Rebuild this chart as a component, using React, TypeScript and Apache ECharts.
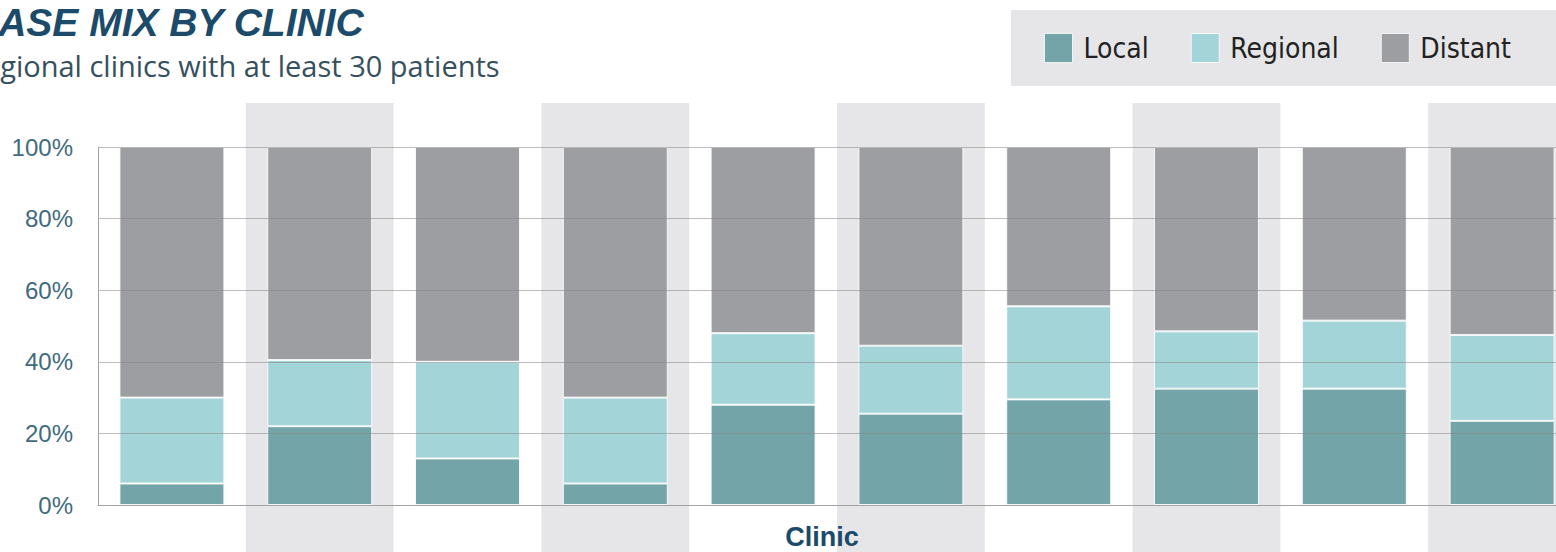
import React, { useEffect, useRef } from "react";
import * as echarts from "echarts";

const categories = ["Clinic 1", "Clinic 2", "Clinic 3", "Clinic 4", "Clinic 5", "Clinic 6", "Clinic 7", "Clinic 8", "Clinic 9", "Clinic 10"];
const localPct = [6, 22, 13, 6, 28, 25.5, 29.5, 32.5, 32.5, 23.5];
const regionalPct = [24, 18.5, 27, 24, 20, 19, 26, 16, 19, 24];
const distantPct = [70, 59.5, 60, 70, 52, 55.5, 44.5, 51.5, 48.5, 52.5];
const gridLevels = [20, 40, 60, 80, 100];

const titleText = "CASE MIX BY CLINIC";
const subtitleText = "Regional clinics with at least 30 patients";

const OFFSET = 40;
const RIGHT_EXTRA = 240;
const CHART_W = 1556 + OFFSET + RIGHT_EXTRA;
const CHART_H = 552;

const COLORS = { local: "#72a4a8", regional: "#a3d5d8", distant: "#9d9ea2", band: "#e6e6e8" };

export default function App() {
  const ref = useRef<HTMLDivElement>(null);
  useEffect(() => {
    if (!ref.current) return;
    const chart = echarts.init(ref.current, null, { renderer: "svg" });
    const barStyle = (color: string) => ({ color, borderColor: "rgba(255,255,255,0.85)", borderWidth: 1 });
    chart.setOption({
      animation: false,
      backgroundColor: "#ffffff",
      title: [
        {
          text: titleText,
          left: OFFSET - 30,
          top: 3,
          padding: 0,
          textStyle: { fontFamily: "Liberation Sans", fontWeight: "bold", fontStyle: "italic", fontSize: 39, color: "#1b4a6a" },
        },
        {
          text: subtitleText,
          left: OFFSET - 34,
          top: 51,
          padding: 0,
          textStyle: { fontFamily: "Open Sans", fontWeight: "normal", fontSize: 29, color: "#36505e" },
        },
      ],
      legend: {
        left: OFFSET + 1011,
        top: 10,
        width: 900,
        backgroundColor: "#e6e6e8",
        padding: [23, 80, 23, 33],
        itemWidth: 28,
        itemHeight: 29,
        itemGap: 42,
        icon: "rect",
        data: ["Local", "Regional", "Distant"],
        itemStyle: { borderColor: "rgba(255,255,255,0.8)", borderWidth: 1 },
        textStyle: { fontFamily: "DejaVu Sans Condensed, Roboto", fontSize: 28, color: "#222222", lineHeight: 29, padding: [0, 0, 0, 6] },
      },
      grid: [
        { left: OFFSET + 98, right: RIGHT_EXTRA - 20, top: 147, bottom: CHART_H - 505, outerBoundsMode: "none" },
        { left: OFFSET + 98, right: RIGHT_EXTRA - 20, top: 103, bottom: 0, outerBoundsMode: "none" },
      ],
      xAxis: [
        {
          type: "category",
          gridIndex: 0,
          data: categories,
          z: 5,
          axisLine: { show: true, lineStyle: { color: "#a3a3a3", width: 1 } },
          axisTick: { show: false },
          axisLabel: { show: false },
          splitLine: { show: false },
          name: "Clinic",
          nameLocation: "middle",
          nameGap: 18,
          nameTextStyle: { fontFamily: "Liberation Sans", fontWeight: "bold", fontSize: 27, color: "#1b4a6a", padding: [0, 30, 0, 0] },
        },
        {
          type: "category",
          gridIndex: 1,
          data: categories,
          z: -1,
          axisLine: { show: false },
          axisTick: { show: false },
          axisLabel: { show: false },
          splitLine: { show: false },
          splitArea: { show: true, areaStyle: { color: ["rgba(255,255,255,0)", COLORS.band] } },
        },
      ],
      yAxis: [
        {
          type: "value",
          gridIndex: 0,
          min: 0,
          max: 100,
          interval: 20,
          z: 5,
          axisLine: { show: true, lineStyle: { color: "#a3a3a3", width: 1 } },
          axisTick: { show: false },
          splitLine: { show: false },
          axisLabel: { formatter: "{value}%", fontFamily: "Liberation Sans", fontSize: 24, color: "#3f6b7d", margin: 25 },
        },
        { type: "value", gridIndex: 1, min: 0, max: 1, show: false },
      ],
      series: [
        { name: "Local", type: "bar", stack: "total", barWidth: "71%", data: localPct, itemStyle: barStyle(COLORS.local) },
        { name: "Regional", type: "bar", stack: "total", barWidth: "71%", data: regionalPct, itemStyle: barStyle(COLORS.regional) },
        {
          name: "Distant",
          type: "bar",
          stack: "total",
          barWidth: "71%",
          data: distantPct,
          itemStyle: barStyle(COLORS.distant),
          markLine: {
            silent: true,
            symbol: ["none", "none"],
            label: { show: false },
            lineStyle: { color: "rgba(135,135,135,0.55)", width: 1, type: "solid" },
            data: gridLevels.map((v) => ({ yAxis: v })),
          },
        },
      ],
    });
    return () => chart.dispose();
  }, []);
  return (
    <div style={{ position: "fixed", left: 0, top: 0, width: 1556, height: 552, overflow: "hidden", background: "#fff" }}>
      <div ref={ref} style={{ position: "absolute", left: -OFFSET, top: 0, width: CHART_W, height: CHART_H }} />
    </div>
  );
}
